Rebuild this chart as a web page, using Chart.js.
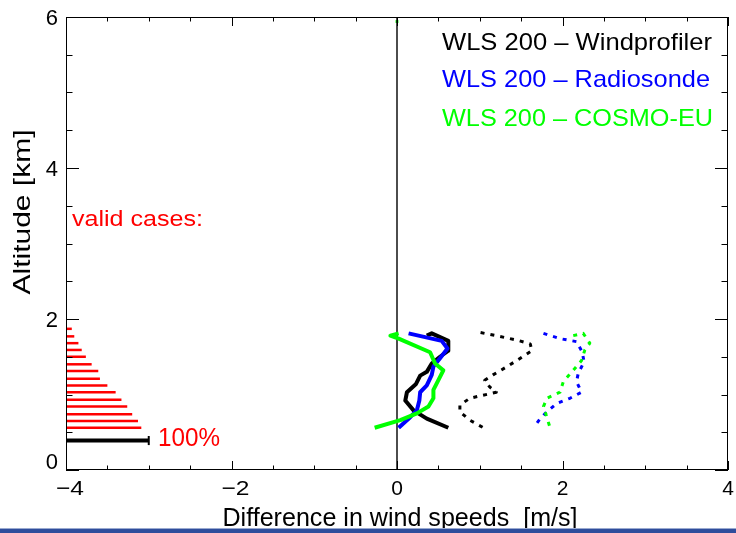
<!DOCTYPE html>
<html>
<head>
<meta charset="utf-8">
<script src="https://cdn.jsdelivr.net/npm/chart.js@4.4.1/dist/chart.umd.min.js"></script>
<style>
html, body { margin: 0; padding: 0; background: #fff; overflow: hidden; }
#wrap { position: relative; width: 736px; height: 533px; }
#band { position: absolute; left: 0; bottom: 0; width: 736px; height: 4px; background: #2f4d9c; border-top: 1px solid #9aaad0; }
</style>
</head>
<body>
<div id="wrap">
  <canvas id="c" width="736" height="533"></canvas>
  <div id="band"></div>
</div>
<script>
// ==================== DATA ====================

const xTicks = [-4, -2, 0, 2, 4];
const yTicks = [0, 2, 4, 6];
const xTitle = 'Difference in wind speeds  [m/s]';
const yTitle = 'Altitude [km]';
const seriesNames = ['WLS 200 \u2013 Windprofiler', 'WLS 200 \u2013 Radiosonde', 'WLS 200 \u2013 COSMO-EU'];
const seriesColors = ['#000000', '#0000ff', '#00ff00'];

// mean differences (solid)
const wpAlt  = [1.78, 1.81, 1.71, 1.58, 1.50, 1.41, 1.30, 1.25, 1.14, 1.03, 0.92, 0.79, 0.68, 0.56];
const wpDiff = [0.36, 0.42, 0.62, 0.62, 0.52, 0.42, 0.36, 0.28, 0.23, 0.12, 0.10, 0.20, 0.36, 0.62];
const rsAlt  = [1.81, 1.71, 1.61, 1.48, 1.37, 1.26, 1.12, 1.03, 0.92, 0.79, 0.70, 0.56];
const rsDiff = [0.14, 0.54, 0.61, 0.52, 0.44, 0.42, 0.36, 0.28, 0.27, 0.24, 0.16, 0.02];
const ceAlt  = [1.81, 1.78, 1.74, 1.56, 1.41, 1.32, 1.19, 1.06, 0.95, 0.84, 0.75, 0.66, 0.56];
const ceDiff = [0.02, -0.08, 0.02, 0.40, 0.46, 0.56, 0.50, 0.44, 0.44, 0.38, 0.24, 0.04, -0.27];

// standard deviations (dotted)
const wpSdAlt = [1.82, 1.77, 1.72, 1.67, 1.58, 1.48, 1.37, 1.26, 1.19, 1.10, 1.03, 0.99, 0.95, 0.86, 0.77, 0.66, 0.55];
const wpSd    = [1.01, 1.24, 1.45, 1.61, 1.63, 1.49, 1.33, 1.16, 1.06, 1.12, 1.20, 1.04, 0.88, 0.76, 0.76, 0.88, 1.06];
const rsSdAlt = [1.81, 1.74, 1.70, 1.56, 1.43, 1.28, 1.17, 1.03, 0.95, 0.88, 0.77, 0.68, 0.56];
const rsSd    = [1.77, 1.97, 2.17, 2.24, 2.26, 2.19, 2.17, 2.23, 2.09, 1.93, 1.81, 1.73, 1.65];
const ceSdAlt = [1.78, 1.81, 1.68, 1.59, 1.45, 1.32, 1.17, 1.03, 0.95, 0.84, 0.70, 0.56];
const ceSd    = [2.13, 2.25, 2.33, 2.27, 2.23, 2.13, 2.01, 1.97, 1.81, 1.77, 1.81, 1.85];

// valid cases (fraction of 1 unit = 100%)
const validAlt  = [1.87, 1.77, 1.68, 1.59, 1.50, 1.40, 1.31, 1.21, 1.12, 1.03, 0.93, 0.84, 0.74, 0.65, 0.56];
const validFrac = [0.07, 0.10, 0.15, 0.19, 0.24, 0.31, 0.39, 0.41, 0.50, 0.60, 0.67, 0.74, 0.80, 0.87, 0.91];
const refAlt = 0.39;
const refFrac = 1.0;

// ==================== CHART ====================

const FONT = '"Liberation Sans", Arial, Helvetica, sans-serif';

function pts(xs, ys) {
    return xs.map((x, i) => ({ x: x, y: ys[i] }));
}

function lineSet(data, color, width, dash) {
    return {
        data: data,
        showLine: true,
        borderColor: color,
        backgroundColor: color,
        borderWidth: width,
        borderDash: dash || [],
        borderJoinStyle: 'round',
        pointRadius: 0,
        tension: 0
    };
}

const datasets = [];
datasets.push(lineSet(pts(ceSd, ceSdAlt), '#00ff00', 3, [4, 6]));
datasets.push(lineSet(pts(rsSd, rsSdAlt), '#0000ff', 3, [4, 6]));
datasets.push(lineSet(pts(wpSd, wpSdAlt), '#000000', 3, [4, 6]));
datasets.push(lineSet(pts(ceDiff, ceAlt), '#00ff00', 4));
datasets.push(lineSet(pts(rsDiff, rsAlt), '#0000ff', 4));
datasets.push(lineSet(pts(wpDiff, wpAlt), '#000000', 4));
datasets.push(lineSet([{ x: 0, y: 0 }, { x: 0, y: 6 }], '#000000', 1.4));
validAlt.forEach((a, i) => {
    datasets.push(lineSet([{ x: -4, y: a }, { x: -4 + validFrac[i], y: a }], '#ff0000', 2.5));
});
datasets.push(lineSet([{ x: -4, y: refAlt }, { x: -4 + refFrac, y: refAlt }], '#000000', 4));
datasets.push(lineSet([{ x: -4 + refFrac, y: refAlt - 0.06 }, { x: -4 + refFrac, y: refAlt + 0.06 }], '#000000', 2));
datasets.push({
    data: [{ x: 0, y: 5.94 }],
    showLine: false,
    pointStyle: 'rect',
    pointRadius: 2,
    backgroundColor: '#00ff00',
    borderColor: '#00ff00',
    borderWidth: 0
});

// draw text, optionally stretched to a target width
function txt(ctx, s, x, y, size, color, o) {
    o = o || {};
    ctx.save();
    ctx.font = size + 'px ' + FONT;
    ctx.fillStyle = color;
    ctx.textBaseline = o.base || 'alphabetic';
    ctx.textAlign = o.align || 'left';
    ctx.translate(x, y);
    if (o.rotate) ctx.rotate(-Math.PI / 2);
    const w = ctx.measureText(s).width;
    if (o.width) ctx.scale(o.width / w, 1);
    ctx.fillText(s, 0, 0);
    ctx.restore();
}

const framePlugin = {
    id: 'frame',
    afterDatasetsDraw(chart) {
        const ctx = chart.ctx;
        const a = chart.chartArea;
        const xs = chart.scales.x, ys = chart.scales.y;

        ctx.save();
        ctx.strokeStyle = '#000';
        ctx.lineWidth = 1;
        ctx.strokeRect(a.left + 0.5, a.top + 0.5, a.right - a.left - 1, a.bottom - a.top - 1);

        // inward ticks on all four sides, minor every 0.5
        ctx.beginPath();
        for (let v = -4; v <= 4.001; v += 0.5) {
            const p = Math.round(xs.getPixelForValue(v)) + 0.5;
            const len = (Math.abs(v % 2) < 0.01) ? 9 : 4.5;
            ctx.moveTo(p, a.bottom); ctx.lineTo(p, a.bottom - len);
            ctx.moveTo(p, a.top); ctx.lineTo(p, a.top + len);
        }
        for (let v = 0; v <= 6.001; v += 0.5) {
            const p = Math.round(ys.getPixelForValue(v)) + 0.5;
            const len = (Math.abs(v % 2) < 0.01) ? 13 : 6.5;
            ctx.moveTo(a.left, p); ctx.lineTo(a.left + len, p);
            ctx.moveTo(a.right, p); ctx.lineTo(a.right - len, p);
        }
        ctx.stroke();
        ctx.restore();

        // tick labels
        xTicks.forEach(v => {
            const s = v < 0 ? '\u2212' + Math.abs(v) : String(v);
            txt(ctx, s, xs.getPixelForValue(v) + (v < 0 ? 4 : 0), 495, 21, '#000', { align: 'center', width: v < 0 ? 28 : undefined });
        });
        yTicks.forEach(v => {
            const p = ys.getPixelForValue(v) + (v === 0 ? -7 : 2);
            txt(ctx, String(v), 58, p, 22, '#000', { align: 'right', base: 'middle' });
        });

        // axis titles
        txt(ctx, xTitle, 400, 526, 25, '#000', { align: 'center', width: 355 });
        txt(ctx, yTitle, 30, 212, 24, '#000', { align: 'center', rotate: true, width: 165 });

        // legend
        const legY = [50, 87, 126];
        const legW = [270, 268, 271];
        seriesNames.forEach((n, i) => {
            txt(ctx, n, 442, legY[i], 24, seriesColors[i], { width: legW[i] });
        });

        // annotations
        txt(ctx, 'valid cases:', 72, 226, 22, '#ff0000', { width: 131 });
        txt(ctx, '100%', 158, 446, 25, '#ff0000', { width: 62 });
    }
};

new Chart(document.getElementById('c').getContext('2d'), {
    type: 'scatter',
    data: { datasets: datasets },
    options: {
        responsive: false,
        animation: false,
        layout: { padding: { left: 66, right: 8, top: 17, bottom: 63 } },
        plugins: { legend: { display: false }, tooltip: { enabled: false } },
        scales: {
            x: { type: 'linear', min: -4, max: 4, display: false },
            y: { type: 'linear', min: 0, max: 6, display: false }
        }
    },
    plugins: [framePlugin]
});
</script>
</body>
</html>
